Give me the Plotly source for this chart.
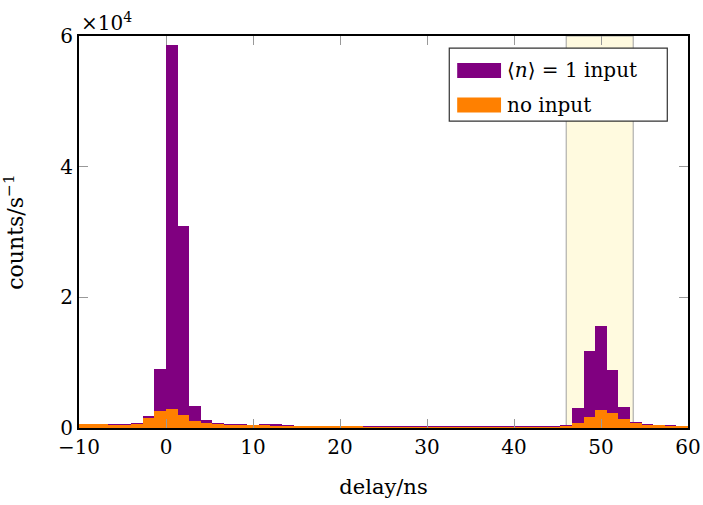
import plotly.graph_objects as go

# histogram bins (ns), width 4/3 ns, left edges k*4/3 for k=-8..44
bin_width = 4 / 3
bin_index = list(range(-8, 45))
bin_centers = [(k + 0.5) * bin_width for k in bin_index]

# counts per second (units of 1e4)
with_input = [0.065, 0.065, 0.06, 0.06, 0.065, 0.08, 0.18, 0.91, 5.86, 3.09,
              0.337, 0.12, 0.07, 0.06, 0.055, 0.05, 0.055, 0.06, 0.05, 0.035,
              0.03, 0.03, 0.035, 0.025, 0.025, 0.02, 0.02, 0.02, 0.02, 0.02,
              0.018, 0.02, 0.022, 0.02, 0.018, 0.02, 0.02, 0.018, 0.02, 0.02,
              0.022, 0.035, 0.046, 0.30, 1.18, 1.56, 0.89, 0.32, 0.087, 0.057,
              0.045, 0.04, 0.035]
no_input = [0.06, 0.06, 0.055, 0.05, 0.05, 0.06, 0.15, 0.265, 0.286, 0.20,
            0.11, 0.07, 0.06, 0.05, 0.045, 0.04, 0.04, 0.035, 0.03, 0.03,
            0.025, 0.02, 0.02, 0.02, 0.02, 0.015, 0.015, 0.015, 0.012, 0.012,
            0.012, 0.01, 0.012, 0.01, 0.01, 0.01, 0.01, 0.01, 0.01, 0.012,
            0.012, 0.015, 0.02, 0.07, 0.17, 0.27, 0.235, 0.14, 0.07, 0.05,
            0.04, 0.035, 0.03]
scale = 1e4

window = (46.0, 53.7)  # highlighted delay window

x_ticks = [-10, 0, 10, 20, 30, 40, 50, 60]
y_ticks = [0, 2, 4, 6]

PURPLE = "#800080"
ORANGE = "#FF8000"
FONT = "DejaVu Serif"

fig = go.Figure()
fig.add_trace(go.Bar(x=bin_centers, y=[v * scale for v in with_input],
                     width=bin_width, marker=dict(color=PURPLE, line_width=0),
                     showlegend=False))
fig.add_trace(go.Bar(x=bin_centers, y=[v * scale for v in no_input],
                     width=bin_width, marker=dict(color=ORANGE, line_width=0),
                     showlegend=False))

fig.add_vrect(x0=window[0], x1=window[1], fillcolor="#FFFADF", opacity=1,
              line=dict(color="#A0A0A0", width=1), layer="below")

# legend drawn by hand to get the wide pgfplots-style swatches
fig.add_shape(type="rect", xref="paper", yref="paper", x0=0.608, x1=0.966,
              y0=0.783, y1=0.969, line=dict(color="#333333", width=1.2),
              fillcolor="white")
for i, (col, txt) in enumerate([(PURPLE, "⟨<i>n</i>⟩ = 1 input"), (ORANGE, "no input")]):
    yc = 0.912 - i * 0.088
    fig.add_shape(type="rect", xref="paper", yref="paper", x0=0.621, x1=0.693,
                  y0=yc - 0.019, y1=yc + 0.019, line_width=0, fillcolor=col)
    fig.add_annotation(xref="paper", yref="paper", x=0.700, y=yc, text=txt,
                       showarrow=False, xanchor="left", yanchor="middle",
                       font=dict(family=FONT, size=20, color="black"))

fig.add_annotation(xref="paper", yref="paper", x=0.0, y=1.0, yshift=-1,
                   text="×10<sup>4</sup>", showarrow=False, xanchor="left",
                   yanchor="bottom", font=dict(family=FONT, size=20, color="black"))

axis_common = dict(showline=True, linecolor="black", linewidth=2, mirror="ticks",
                   ticks="inside", ticklen=9, tickcolor="#999999", tickwidth=1,
                   showgrid=False, zeroline=False, automargin=False,
                   ticklabeloverflow="allow",
                   tickfont=dict(family=FONT, size=20, color="black"))

fig.update_layout(
    width=703, height=505,
    margin=dict(l=79, r=15, t=36, b=77),
    paper_bgcolor="white", plot_bgcolor="white",
    barmode="overlay", bargap=0,
    font=dict(family=FONT, size=20, color="black"),
    xaxis=dict(range=[-10, 60], tickvals=x_ticks,
               ticktext=[str(t).replace("-", "−") for t in x_ticks],
               title=dict(text="delay/ns", font=dict(family=FONT, size=21), standoff=21),
               **axis_common),
    yaxis=dict(range=[0, 6 * scale], tickvals=[t * scale for t in y_ticks],
               ticktext=[str(t) for t in y_ticks],
               title=dict(text="counts/s<sup>−1</sup>", font=dict(family=FONT, size=22), standoff=36),
               **axis_common),
)

# drop the default 8px body margin so the figure fills the window exactly
fig.write_html("out.html",
               config={"displayModeBar": False},
               post_script="document.body.style.margin='0px';"
                           "document.body.style.overflow='hidden';")
